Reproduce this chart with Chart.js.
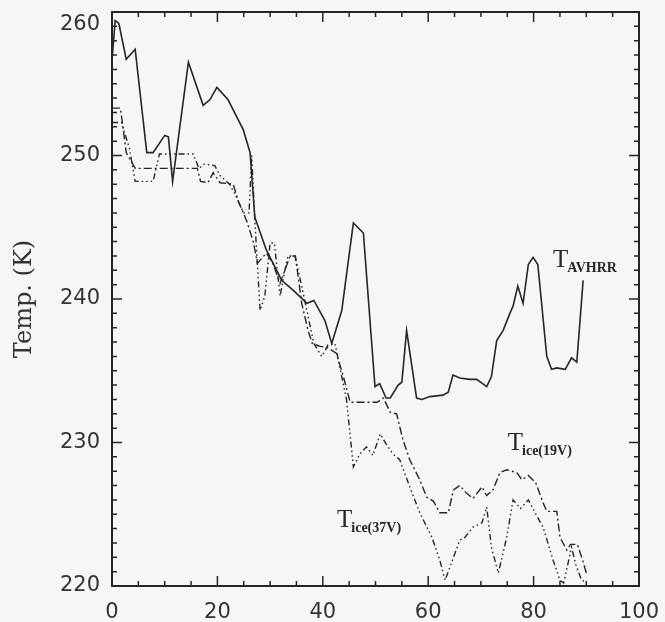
<!DOCTYPE html>
<html lang="en">
<head>
    <meta charset="UTF-8">
    <title>Temperature profile</title>
    <script src="https://cdn.jsdelivr.net/npm/chart.js"></script>
    <style>
        html, body { margin: 0; padding: 0; background: #f6f6f4; }
        canvas { display: block; }
    </style>
</head>
<body>
    <canvas id="chart" width="665" height="622"></canvas>

    <script>
        // T_AVHRR (solid)
        const avhrrX = [0, 0.6, 1.3, 2.7, 4.4, 6.6, 7.8, 10, 10.7, 11.5, 14.5, 17.3, 18.6, 19.9, 22, 24.9, 26.2, 27.1, 29.3, 32.2,
            34.4, 37, 38.3, 40.4, 41.7, 43.6, 45.8, 47.7, 49.9, 50.8, 52, 52.8, 54.3, 55, 55.9, 57.8, 58.8, 60.3, 62.8, 63.8,
            64.7, 66, 67.9, 69.2, 71.1, 72, 73, 74.2, 75.5, 76.1, 77, 78, 79, 79.9, 80.8, 82.5, 83.4, 84.4, 86, 87.2, 88.2, 89.4];
        const avhrrY = [256.6, 259.4, 259.2, 256.7, 257.4, 250.2, 250.2, 251.4, 251.3, 248.2, 256.5, 253.5, 253.9, 254.75, 253.9, 251.8, 250.2, 245.7, 243.4, 241.3,
            240.6, 239.7, 239.9, 238.5, 236.9, 239.2, 245.3, 244.6, 233.9, 234.1, 233.1, 233.1, 234.0, 234.2, 237.8, 233.1, 233.0, 233.2, 233.3, 233.5,
            234.7, 234.5, 234.4, 234.4, 233.9, 234.6, 237.1, 237.8, 239.0, 239.5, 240.9, 239.7, 242.4, 242.9, 242.4, 236.0, 235.1, 235.2, 235.1, 235.9, 235.6, 241.3];

        // T_ice(19V) (dash-dot)
        const ice19X = [0, 1.6, 2.7, 4.4, 16.2, 16.8, 18.2, 19.2, 20.5, 23, 24, 25.6, 26.8, 27.6, 29.3, 30.5, 31.9, 33.8, 34.8, 36,
            37.2, 38, 39.5, 41, 42.6, 43.9, 45.2, 50.3, 51.5, 52.8, 54, 55.2, 56.5, 58.4, 59.7, 61, 62.2, 63.8, 64.8, 66,
            67.2, 68.5, 70.2, 71.1, 72.3, 73.6, 74.9, 76.8, 77.8, 79, 80.4, 81.8, 82.5, 84.4, 85, 86.3, 87, 88.3, 89.3, 90];
        const ice19Y = [253.3, 253.3, 250.2, 249.1, 249.1, 248.2, 248.1, 248.8, 248.1, 248.0, 246.8, 245.4, 244.0, 242.5, 243.2, 242.5, 241.1, 243.0, 243.0, 239.7,
            237.8, 236.9, 236.7, 236.6, 236.2, 234.6, 232.8, 232.8, 233.1, 232.1, 232.0, 230.2, 228.8, 227.4, 226.2, 225.9, 225.1, 225.1, 226.7, 227.0,
            226.5, 226.1, 226.9, 226.3, 226.7, 227.9, 228.1, 227.9, 227.4, 227.7, 227.2, 225.8, 225.2, 225.2, 223.4, 222.5, 222.9, 222.9, 221.8, 220.9];

        // T_ice(37V) (dash-dot-dot-dot)
        const ice37X = [0, 1.8, 3.3, 4.4, 7.8, 9, 15.4, 16.5, 17.5, 19.5, 20.5, 22.3, 23.5, 24.2, 25, 26, 26.5, 27.1, 28.1, 29,
            30, 30.8, 31.9, 32.8, 33.4, 34.7, 36, 37.6, 38.3, 39.8, 41, 42.3, 43.3, 44.5, 45.8, 47, 48.3, 49.5, 50.9, 52,
            53.3, 54.6, 56.5, 58.4, 60.7, 62.2, 63.2, 64.8, 66, 67, 68.5, 70.2, 71.1, 72, 73.3, 74.9, 76.1, 77.5, 79, 80,
            81.8, 83.7, 85, 85.7, 87.2, 88, 89.1, 90];
        const ice37Y = [252.3, 252.3, 250.5, 248.2, 248.2, 250.1, 250.1, 249.1, 249.4, 249.3, 248.6, 248.0, 247.2, 246.6, 246.0, 246.0, 250.0, 245.5, 239.2, 240.2,
            243.9, 243.9, 240.2, 242.0, 243.0, 243.0, 240.9, 238.1, 236.9, 236.0, 236.8, 236.9, 235.1, 233.0, 228.3, 229.2, 229.7, 229.1, 230.6, 229.9,
            229.2, 228.8, 226.9, 225.1, 223.4, 221.8, 220.4, 222.0, 223.2, 223.4, 224.1, 224.4, 225.5, 222.7, 220.9, 223.4, 226.0, 225.4, 226.0, 225.3,
            224.1, 221.8, 220.4, 220.2, 222.7, 221.5, 220.4, 220.3];

        const xTicks = [0, 20, 40, 60, 80, 100];
        const yTicks = [220, 230, 240, 250, 260];

        // curve labels: [main, subscript, x, y] in data units
        const curveLabels = [
            ['T', 'AVHRR', 83.7, 242.2],
            ['T', 'ice(19V)', 75.1, 229.5],
            ['T', 'ice(37V)', 42.7, 224.1]
        ];

        const ink = '#262626';

        function points(xs, ys) {
            return xs.map((x, i) => ({ x: x, y: ys[i] }));
        }

        // frame, inward ticks and curve labels
        const framePlugin = {
            id: 'frame',
            afterDraw(chart) {
                const { ctx, chartArea: a, scales } = chart;
                const xs = scales.x, ys = scales.y;
                ctx.save();
                ctx.strokeStyle = ink;
                ctx.lineWidth = 2;
                ctx.strokeRect(a.left, a.top, a.right - a.left, a.bottom - a.top);

                ctx.lineWidth = 1.5;
                ctx.beginPath();
                for (let v = xs.min; v <= xs.max; v += 5) {
                    const px = xs.getPixelForValue(v);
                    const len = v % 20 === 0 ? 10 : 5;
                    ctx.moveTo(px, a.bottom); ctx.lineTo(px, a.bottom - len);
                    ctx.moveTo(px, a.top); ctx.lineTo(px, a.top + len);
                }
                for (let v = ys.min; v <= ys.max; v += 1) {
                    const py = ys.getPixelForValue(v);
                    const len = v % 10 === 0 ? 10 : 5;
                    ctx.moveTo(a.left, py); ctx.lineTo(a.left + len, py);
                    ctx.moveTo(a.right, py); ctx.lineTo(a.right - len, py);
                }
                ctx.stroke();

                ctx.fillStyle = ink;
                ctx.textBaseline = 'alphabetic';
                curveLabels.forEach(([main, sub, x, y]) => {
                    const px = xs.getPixelForValue(x);
                    const py = ys.getPixelForValue(y);
                    ctx.font = '25px "Liberation Serif"';
                    ctx.fillText(main, px, py);
                    const w = ctx.measureText(main).width;
                    ctx.font = 'bold 14px "Liberation Serif"';
                    ctx.fillText(sub, px + w - 1, py + 5);
                });
                ctx.restore();
            }
        };

        const lineStyle = {
            borderColor: ink,
            borderWidth: 1.6,
            pointRadius: 0,
            tension: 0,
            fill: false
        };

        new Chart(document.getElementById('chart'), {
            type: 'line',
            data: {
                datasets: [
                    Object.assign({ label: 'T_AVHRR', data: points(avhrrX, avhrrY) }, lineStyle),
                    Object.assign({ label: 'T_ice(19V)', data: points(ice19X, ice19Y), borderDash: [8, 3, 2, 3] }, lineStyle, { borderWidth: 1.4 }),
                    Object.assign({ label: 'T_ice(37V)', data: points(ice37X, ice37Y), borderDash: [6, 3, 1.5, 3, 1.5, 3, 1.5, 3] }, lineStyle, { borderWidth: 1.4 })
                ]
            },
            options: {
                responsive: false,
                animation: false,
                devicePixelRatio: 1,
                layout: { padding: { top: 12, right: 26, left: 0, bottom: 0 } },
                plugins: {
                    legend: { display: false },
                    tooltip: { enabled: false }
                },
                scales: {
                    x: {
                        type: 'linear',
                        min: 0,
                        max: 100,
                        afterBuildTicks: s => { s.ticks = xTicks.map(v => ({ value: v })); },
                        afterFit: s => { s.height = 36; s.paddingLeft = 0; s.paddingRight = 0; },
                        grid: { display: false, drawTicks: false },
                        border: { display: false },
                        ticks: {
                            padding: 14,
                            maxRotation: 0,
                            color: '#333',
                            font: { family: 'DejaVu Sans', size: 21 }
                        }
                    },
                    y: {
                        min: 220,
                        max: 260,
                        afterBuildTicks: s => { s.ticks = yTicks.map(v => ({ value: v })); },
                        afterFit: s => { s.width = 112; s.paddingTop = 0; s.paddingBottom = 0; },
                        grid: { display: false, drawTicks: false },
                        border: { display: false },
                        title: {
                            display: true,
                            text: 'Temp. (K)',
                            color: '#333',
                            padding: { top: 10, bottom: 0 },
                            font: { family: 'DejaVu Serif', size: 24 }
                        },
                        ticks: {
                            padding: 12,
                            color: '#333',
                            font: { family: 'DejaVu Sans', size: 21 },
                            // top label sits a little below its tick, as in the original
                            callback: v => v === 260 ? ['', '260'] : String(v)
                        }
                    }
                }
            },
            plugins: [framePlugin]
        });
    </script>
</body>
</html>
